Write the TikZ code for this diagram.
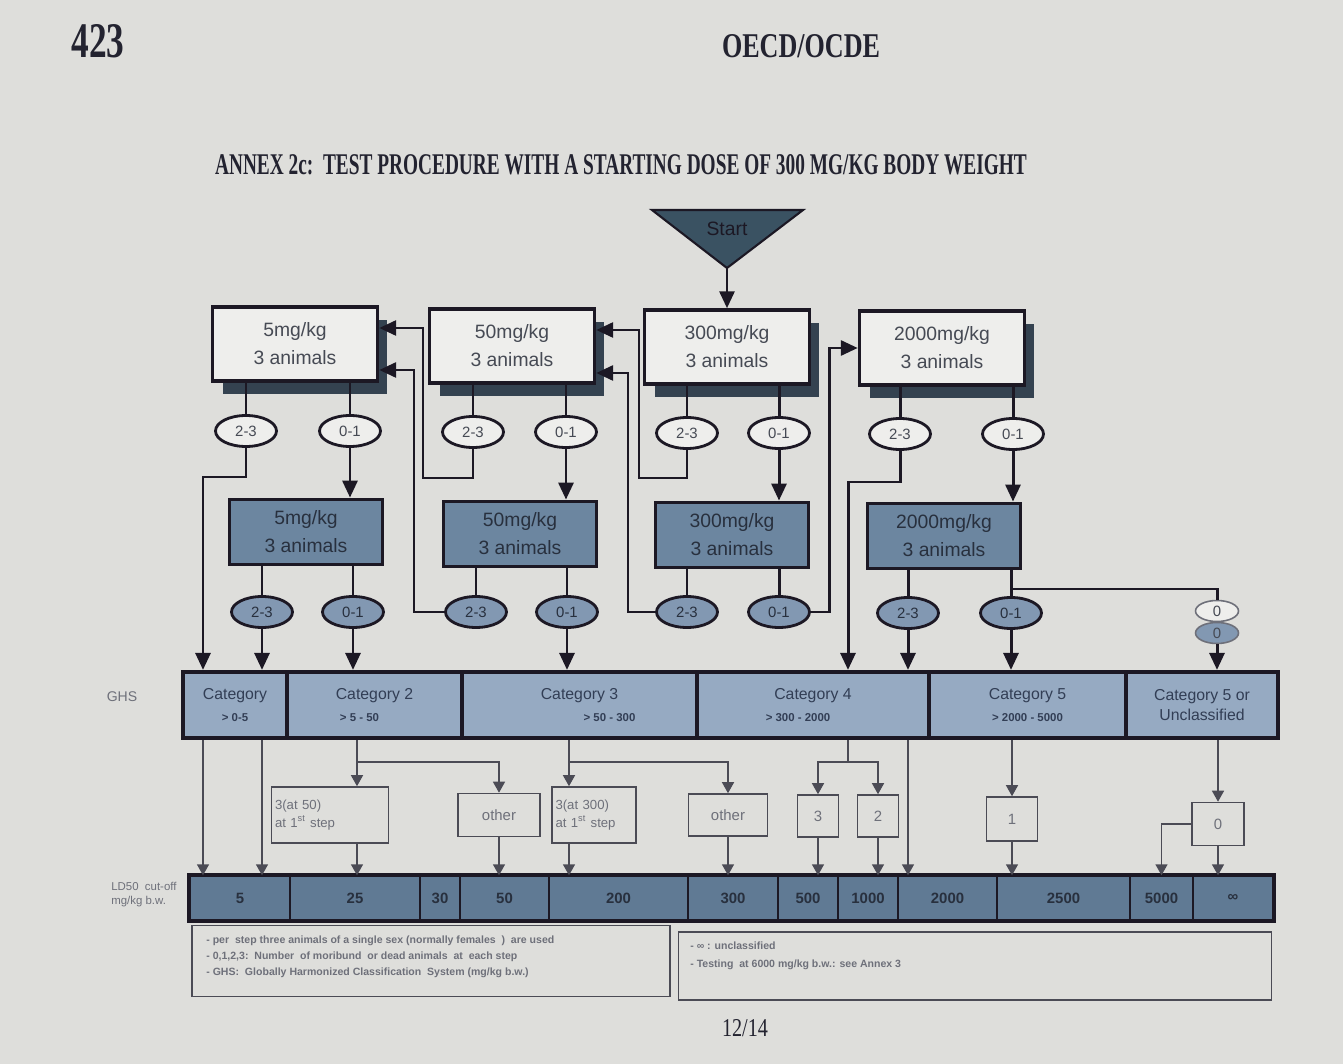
\documentclass[tikz,border=0pt]{standalone}
\usepackage{fontspec}
\usepackage{graphicx}
\setmainfont{Liberation Sans}
\newfontfamily\hdfont{Liberation Serif}
\usetikzlibrary{arrows.meta,shapes.geometric,shadows}

\definecolor{paper}{RGB}{222,222,219}
\definecolor{ink}{RGB}{28,24,36}
\definecolor{boxw}{RGB}{238,238,236}
\definecolor{shade}{RGB}{52,66,80}
\definecolor{startc}{RGB}{58,82,98}
\definecolor{midblue}{RGB}{108,134,160}
\definecolor{ovalblue}{RGB}{130,152,178}
\definecolor{catblue}{RGB}{150,170,194}
\definecolor{ldblue}{RGB}{96,122,148}
\definecolor{txt}{RGB}{70,74,84}
\definecolor{txtdark}{RGB}{40,48,62}
\definecolor{cattxt}{RGB}{50,62,85}
\definecolor{thin}{RGB}{75,75,85}
\definecolor{txtgray}{RGB}{110,112,122}
\definecolor{hdtxt}{RGB}{35,35,48}

\newcommand\rng{\bfseries\fontsize{6.5}{7}\selectfont}

\tikzset{
  dose/.style={draw=ink, line width=2pt, fill=boxw, minimum width=3.3cm, minimum height=1.48cm,
    align=center, font=\fontsize{11}{16}\selectfont, text=txt,
    drop shadow={shadow xshift=0.2cm, shadow yshift=-0.26cm, fill=shade, opacity=1}},
  redose/.style={draw=ink, line width=2.2pt, fill=midblue, minimum width=3.06cm, minimum height=1.3cm,
    align=center, font=\fontsize{11}{16}\selectfont, text=txtdark},
  res/.style={ellipse, draw=ink, line width=1.6pt, fill=boxw, minimum width=1.22cm, minimum height=0.62cm,
    inner sep=0pt, font=\fontsize{8.5}{10}\selectfont, text=txt},
  reslow/.style={res, fill=ovalblue, text=txtdark},
  zero/.style={ellipse, draw=txtgray, line width=0.9pt, minimum width=0.86cm, minimum height=0.42cm,
    inner sep=0pt, font=\fontsize{8.5}{10}\selectfont, text=txt},
  cat/.style={draw=ink, line width=2.4pt, fill=catblue, minimum height=1.32cm, align=center,
    inner sep=0pt, font=\fontsize{9}{11}\selectfont, text=cattxt},
  ld/.style={draw=ink, line width=0.8pt, fill=ldblue, minimum height=0.88cm, inner sep=0pt,
    font=\bfseries\fontsize{8.5}{10}\selectfont, text=txtdark},
  outc/.style={draw=thin, line width=0.9pt, inner sep=1.5pt, font=\fontsize{8.5}{10}\selectfont, text=txtgray},
  legbox/.style={draw=thin, line width=0.9pt},
  legtxt/.style={align=left, inner sep=0pt, font=\bfseries\fontsize{6}{9.1}\selectfont, text=txtgray},
  flow/.style={draw=ink, line width=1.7pt, -{Triangle[length=0.34cm,width=0.3cm]}},
  link/.style={draw=ink, line width=1.7pt},
  tflow/.style={draw=thin, line width=0.8pt, -{Triangle[length=0.22cm,width=0.24cm]}},
  tlink/.style={draw=thin, line width=0.8pt},
}

\begin{document}
\begin{tikzpicture}[x=0.02cm, y=-0.02cm]
\fill[paper] (0,0) rectangle (1343,1064);
\useasboundingbox (0,0) rectangle (1343,1064);

% page header
\node[font=\hdfont\bfseries, text=hdtxt] (pgno) at (98,41) {\resizebox{1.06cm}{0.66cm}{423}};
\node[font=\hdfont\bfseries, text=hdtxt] (org) at (801,46) {\resizebox{3.16cm}{0.46cm}{OECD/OCDE}};
\node[font=\hdfont\bfseries, text=hdtxt] (title) at (621,165)
  {\resizebox{16.24cm}{0.40cm}{ANNEX 2c:\ \ TEST PROCEDURE WITH A STARTING DOSE OF 300 MG/KG BODY WEIGHT}};

% start
\filldraw[fill=startc, draw=ink, line width=1.2pt] (652,210) -- (803,210) -- (727,268) -- cycle;
\node[font=\fontsize{11}{13}\selectfont, text=ink] (start) at (727,229) {Start};
\coordinate (apex) at (727,268);

% first step
\node[dose] (b5) at (295,344) {5mg/kg\\3 animals};
\node[dose] (b50) at (512,346) {50mg/kg\\3 animals};
\node[dose] (b300) at (727,347) {300mg/kg\\3 animals};
\node[dose] (b2000) at (942,348) {2000mg/kg\\3 animals};

\node[res] (t5a) at (246,431) {2-3};
\node[res] (t5b) at (350,431) {0-1};
\node[res] (t50a) at (473,432) {2-3};
\node[res] (t50b) at (566,432) {0-1};
\node[res] (t300a) at (687,433) {2-3};
\node[res] (t300b) at (779,433) {0-1};
\node[res] (t2000a) at (900,434) {2-3};
\node[res] (t2000b) at (1013,434) {0-1};

% second step
\node[redose] (s5) at (306,532) {5mg/kg\\3 animals};
\node[redose] (s50) at (520,534) {50mg/kg\\3 animals};
\node[redose] (s300) at (732,535) {300mg/kg\\3 animals};
\node[redose] (s2000) at (944,536) {2000mg/kg\\3 animals};

\node[reslow] (m5a) at (262,612) {2-3};
\node[reslow] (m5b) at (353,612) {0-1};
\node[reslow] (m50a) at (476,612) {2-3};
\node[reslow] (m50b) at (567,612) {0-1};
\node[reslow] (m300a) at (687,612) {2-3};
\node[reslow] (m300b) at (779,612) {0-1};
\node[reslow] (m2000a) at (908,613) {2-3};
\node[reslow] (m2000b) at (1011,613) {0-1};
\node[zero, fill=boxw] (z0a) at (1217,611) {0};
\node[zero, fill=ovalblue] (z0b) at (1217,633) {0};

% GHS categories
\node[font=\fontsize{8}{10}\selectfont, text=txtgray] (ghs) at (122,697) {GHS};
\node[cat, minimum width=2.08cm] (c1) at (235,705) {Category\\[1pt]{\rng > 0-5}};
\node[cat, minimum width=3.5cm] (c2) at (374.5,705) {Category 2\\[1pt]\hspace*{-0.6cm}{\rng > 5 - 50}};
\node[cat, minimum width=4.7cm] (c3) at (579.5,705) {Category 3\\[1pt]\hspace*{1.2cm}{\rng > 50 - 300}};
\node[cat, minimum width=4.64cm] (c4) at (813,705) {Category 4\\[1pt]\hspace*{-0.6cm}{\rng > 300 - 2000}};
\node[cat, minimum width=3.94cm] (c5) at (1027.5,705) {Category 5\\[1pt]{\rng > 2000 - 5000}};
\node[cat, minimum width=3.04cm] (c6) at (1202,705) {Category 5 or\\Unclassified};

% outcomes
\node[outc, minimum width=2.34cm, minimum height=1.12cm, text width=2.2cm, align=left, font=\fontsize{7.5}{10}\selectfont] (r50) at (330,815) {3(at 50)\\at 1\textsuperscript{st} step};
\node[outc, minimum width=1.64cm, minimum height=0.86cm] (ro1) at (499,815) {other};
\node[outc, minimum width=1.68cm, minimum height=1.12cm, text width=1.54cm, align=left, font=\fontsize{7.5}{10}\selectfont] (r300) at (594,815) {3(at 300)\\at 1\textsuperscript{st} step};
\node[outc, minimum width=1.58cm, minimum height=0.84cm] (ro2) at (728,815) {other};
\node[outc, minimum width=0.82cm, minimum height=0.84cm] (r3) at (818,816) {3};
\node[outc, minimum width=0.82cm, minimum height=0.84cm] (r2) at (878,816) {2};
\node[outc, minimum width=1.02cm, minimum height=0.88cm] (r1) at (1012,819) {1};
\node[outc, minimum width=1.04cm, minimum height=0.86cm] (r0) at (1218,824) {0};

% LD50 cut-off
\node[font=\fontsize{6.5}{8}\selectfont, text=txtgray, align=left, anchor=west, inner sep=0pt] (ldlab) at (111,895) {LD50~ cut-off\\mg/kg b.w.};
\node[ld, minimum width=2.0cm] (l5) at (240,898) {5};
\node[ld, minimum width=2.6cm] (l25) at (355,898) {25};
\node[ld, minimum width=0.8cm] (l30) at (440,898) {30};
\node[ld, minimum width=1.78cm] (l50) at (504.5,898) {50};
\node[ld, minimum width=2.78cm] (l200) at (618.5,898) {200};
\node[ld, minimum width=1.8cm] (l300) at (733,898) {300};
\node[ld, minimum width=1.2cm] (l500) at (808,898) {500};
\node[ld, minimum width=1.2cm] (l1000) at (868,898) {1000};
\node[ld, minimum width=1.98cm] (l2000) at (947.5,898) {2000};
\node[ld, minimum width=2.66cm] (l2500) at (1063.5,898) {2500};
\node[ld, minimum width=1.26cm] (l5000) at (1161.5,898) {5000};
\node[ld, minimum width=1.6cm] (linf) at (1233,898) {∞};
\draw[ink, line width=2.4pt] (l5.north west) rectangle (linf.south east);

% legend
\node[legbox, minimum width=9.56cm, minimum height=1.42cm] (leg1) at (431,961) {};
\node[legtxt, anchor=north west] (leg1t) at (206,936)
  {- per\ \ step three animals of a single sex (normally females\ \ )\ \ are used\\
   - 0,1,2,3:\ \ Number\ \ of moribund\ \ or dead animals\ \ at\ \ each step\\
   - GHS:\ \ Globally Harmonized Classification\ \ System (mg/kg b.w.)};
\node[legbox, minimum width=11.86cm, minimum height=1.36cm] (leg2) at (975,966) {};
\node[legtxt, anchor=north west, font=\bfseries\fontsize{6}{10}\selectfont] (leg2t) at (690,942)
  {- ∞ : unclassified\\- Testing\ \ at 6000 mg/kg b.w.: see Annex 3};

\node[font=\hdfont, text=hdtxt] (foot) at (745,1028) {\resizebox{0.92cm}{0.34cm}{12/14}};

% first step links
\draw[flow] (apex) -- (b300.north);
\draw[link] (b5.south -| t5a) -- (t5a);
\draw[link] (b5.south -| t5b) -- (t5b);
\draw[link] (b50.south -| t50a) -- (t50a);
\draw[link] (b50.south -| t50b) -- (t50b);
\draw[link] (b300.south -| t300a) -- (t300a);
\draw[link] (b300.south -| t300b) -- (t300b);
\draw[link] (b2000.south -| t2000a) -- (t2000a);
\draw[link] (b2000.south -| t2000b) -- (t2000b);

\draw[flow] (t5b) -- (t5b |- s5.north);
\draw[flow] (t50b) -- (t50b |- s50.north);
\draw[flow] (t300b) -- (t300b |- s300.north);
\draw[flow] (t2000b) -- (t2000b |- s2000.north);

% second step links
\draw[link] (s5.south -| m5a) -- (m5a);
\draw[link] (s5.south -| m5b) -- (m5b);
\draw[link] (s50.south -| m50a) -- (m50a);
\draw[link] (s50.south -| m50b) -- (m50b);
\draw[link] (s300.south -| m300a) -- (m300a);
\draw[link] (s300.south -| m300b) -- (m300b);
\draw[link] (s2000.south -| m2000a) -- (m2000a);
\draw[link] (s2000.south -| m2000b) -- (m2000b);

% going back / going on
\coordinate (k1) at (423,478);
\coordinate (k2) at (414,500);
\coordinate (k3) at (639,478);
\coordinate (k4) at (628,500);
\coordinate (k5) at (829,480);
\coordinate (k6) at (848,482);
\coordinate (k7) at (203,477);
\coordinate (k8) at (1011,589);
\draw[flow] (t50a.south) |- (k1) |- ([yshift=0.32cm]b5.east);
\draw[flow] (m50a.west) -| (k2) |- ([yshift=-0.52cm]b5.east);
\draw[flow] (t300a.south) |- (k3) |- ([yshift=0.32cm]b50.east);
\draw[flow] (m300a.west) -| (k4) |- ([yshift=-0.54cm]b50.east);
\draw[flow] (m300b.east) -| (k5) |- (b2000.west);
\draw[flow] (t2000a.south) |- (k6) -- (k6 |- c4.north);
\draw[flow] (t5a.south) |- (k7) -- (k7 |- c1.north);
\draw[link] (k8) -| (z0a.north);

% into the categories
\draw[flow] (m5a) -- (m5a |- c1.north);
\draw[flow] (m5b) -- (m5b |- c2.north);
\draw[flow] (m50b) -- (m50b |- c3.north);
\draw[flow] (m2000a) -- (m2000a |- c4.north);
\draw[flow] (m2000b) -- (m2000b |- c5.north);
\draw[flow] (z0b) -- (z0b |- c6.north);

% categories to cut-off values
\draw[tflow] (k7 |- c1.south) -- (k7 |- l5.north);
\draw[tflow] (m5a |- c1.south) -- (m5a |- l5.north);

\coordinate (j2) at (357,762);
\draw[tlink] (c2.south -| j2) -- (j2);
\draw[tflow] (j2) -- (j2 |- r50.north);
\draw[tflow] (j2) -| (ro1.north);
\draw[tflow] (j2 |- r50.south) -- (j2 |- l25.north);
\draw[tflow] (ro1.south) -- (ro1.south |- l50.north);

\coordinate (j3) at (569,762);
\draw[tlink] (c3.south -| j3) -- (j3);
\draw[tflow] (j3) -- (j3 |- r300.north);
\draw[tflow] (j3) -| (ro2.north);
\draw[tflow] (j3 |- r300.south) -- (j3 |- l200.north);
\draw[tflow] (ro2.south) -- (ro2.south |- l300.north);

\coordinate (j4) at (848,762);
\draw[tlink] (c4.south -| j4) -- (j4);
\draw[tflow] (j4) -| (r3.north);
\draw[tflow] (j4) -| (r2.north);
\draw[tflow] (r3.south) -- (r3.south |- l500.north);
\draw[tflow] (r2.south) -- (r2.south |- l1000.north);
\draw[tflow] (m2000a |- c4.south) -- (m2000a |- l2000.north);

\draw[tflow] (r1.north |- c5.south) -- (r1.north);
\draw[tflow] (r1.south) -- (r1.south |- l2500.north);

\draw[tflow] (r0.north |- c6.south) -- (r0.north);
\draw[tflow] (r0.south) -- (r0.south |- linf.north);
\draw[tflow] (r0.west) -| (l5000.north);
\end{tikzpicture}
\end{document}
